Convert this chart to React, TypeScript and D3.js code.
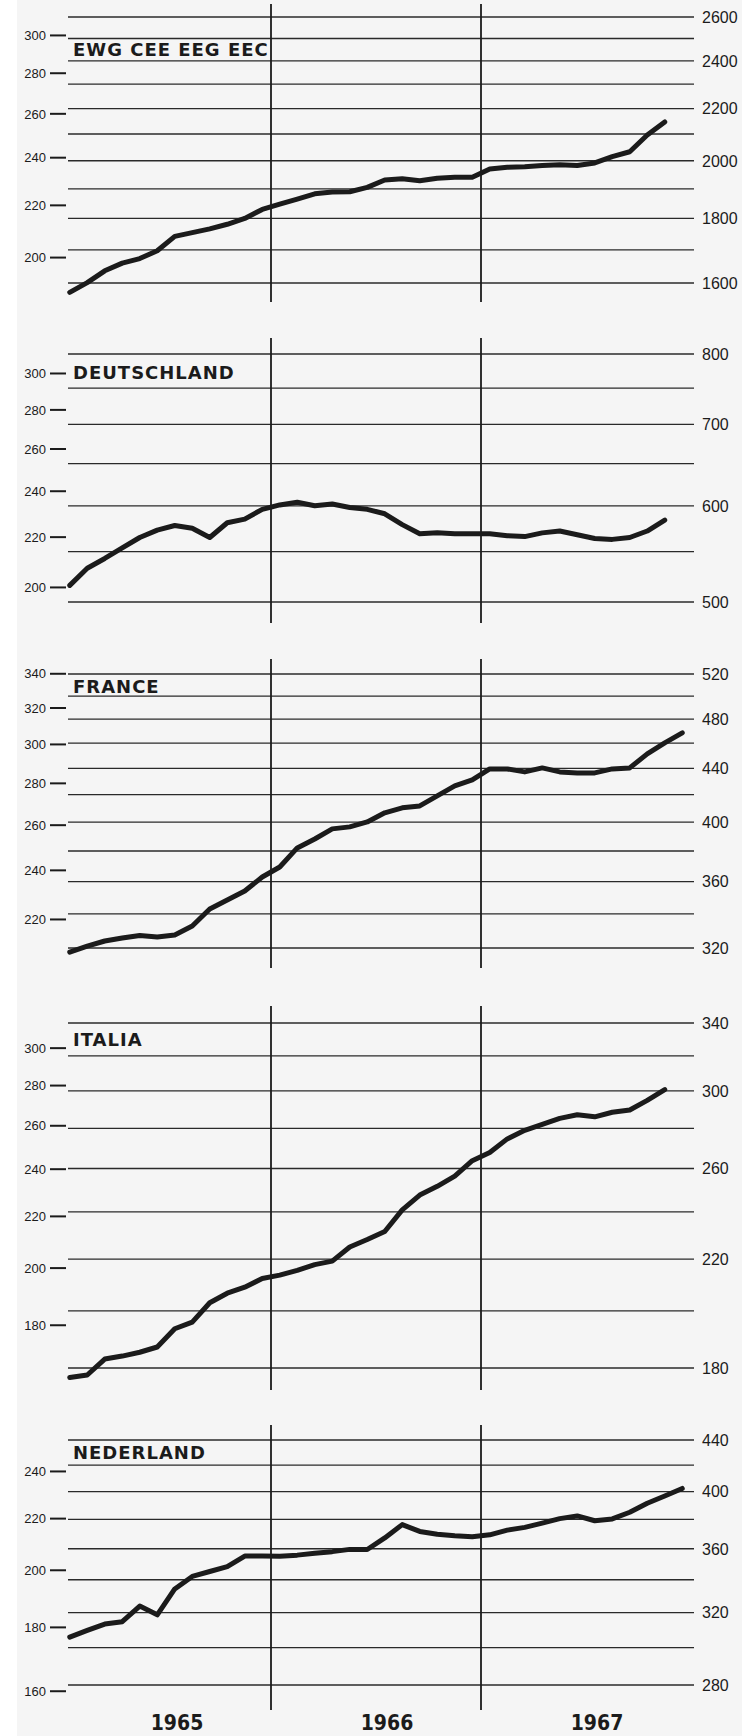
import React from "react";
import * as d3 from "d3";

// ---- data (monthly, Jan 1965 = index 0; values in right-axis units) ----
const ewgValues = [1573,1601,1636,1659,1673,1697,1742,1754,1766,1781,1800,1830,1848,1865,1883,1889,1890,1905,1931,1935,1928,1937,1941,1941,1970,1976,1978,1983,1985,1983,1992,2015,2033,2096,2147];
const deValues = [516,533,543,554,565,573,578,575,565,581,585,596,601,604,600,602,598,596,591,579,569,570,569,569,569,567,566,570,572,568,564,563,565,572,584];
const frValues = [317.7,321.1,324.0,325.7,327.2,326.3,327.5,332.7,342.9,348.4,354.0,362.9,369.4,382.1,388.2,395.2,396.6,400.1,406.6,410.2,411.6,419.0,426.5,431.0,439.5,439.5,437.2,440.3,437.2,436.4,436.4,439.5,440.3,451.4,460.3,468.5];
const itValues = [176.9,177.7,183.0,184.0,185.3,187.1,193.5,195.9,203.0,206.6,208.9,212.3,213.6,215.5,217.8,219.2,225.0,228.1,231.5,240.9,247.6,251.6,256.4,263.8,267.8,274.6,279.0,282.0,285.2,287.1,286.0,288.4,289.6,294.8,300.7];
const nlValues = [305.9,309.7,313.3,314.7,323.9,318.7,334.3,342.1,345.2,348.3,355.2,355.2,355.1,355.8,357.0,358.1,359.6,359.5,367.3,376.4,371.7,369.8,368.7,368.1,369.4,372.6,374.5,377.4,380.6,382.5,379.1,380.4,385.1,391.5,396.8,402.4];

const titles = ["EWG CEE EEG EEC", "DEUTSCHLAND", "FRANCE", "ITALIA", "NEDERLAND"];
const years = ["1965", "1966", "1967"];

const ewgRight = [1600, 1800, 2000, 2200, 2400, 2600];
const deRight = [500, 600, 700, 800];
const frRight = [320, 360, 400, 440, 480, 520];
const itRight = [180, 220, 260, 300, 340];
const nlRight = [280, 320, 360, 400, 440];

const ewgGrid = d3.range(1600, 2601, 100);
const deGrid = d3.range(500, 801, 50);
const frGrid = d3.range(320, 521, 20);
const itGrid = d3.range(180, 341, 20);
const nlGrid = d3.range(280, 441, 20);

const ewgLeft = [200, 220, 240, 260, 280, 300];
const deLeft = [200, 220, 240, 260, 280, 300];
const frLeft = [220, 240, 260, 280, 300, 320, 340];
const itLeft = [180, 200, 220, 240, 260, 280, 300];
const nlLeft = [160, 180, 200, 220, 240];

// ratio right-axis value / left-axis index
const ratios = [8.38, 2.57, 1.53, 1.082, 1.73];

// ---- layout ----
const W = 742, H = 1736;
const panels = [
  { values: ewgValues, right: ewgRight, grid: ewgGrid, left: ewgLeft, yLo: 283, yHi: 17, vTop: 4, vBot: 302, titleY: 56 },
  { values: deValues, right: deRight, grid: deGrid, left: deLeft, yLo: 602, yHi: 354, vTop: 338, vBot: 623, titleY: 379 },
  { values: frValues, right: frRight, grid: frGrid, left: frLeft, yLo: 948, yHi: 674, vTop: 659, vBot: 968, titleY: 693 },
  { values: itValues, right: itRight, grid: itGrid, left: itLeft, yLo: 1368, yHi: 1023, vTop: 1006, vBot: 1390, titleY: 1046 },
  { values: nlValues, right: nlRight, grid: nlGrid, left: nlLeft, yLo: 1685, yHi: 1440, vTop: 1425, vBot: 1710, titleY: 1459 },
];

const x = d3.scaleLinear().domain([0, 36]).range([61, 691]);
const gridX1 = 68, gridX2 = 694;
const ink = "#1b1b1b";
const numFont = "'Liberation Sans', Arial, sans-serif";
const yearFont = "'DejaVu Sans Condensed', 'DejaVu Sans', sans-serif";
const titleFont = "'DejaVu Sans', sans-serif";

function Panel({ p, idx }: { p: any; idx: number }) {
  const lo = p.grid[0], hi = p.grid[p.grid.length - 1];
  const y = d3.scaleLog().domain([lo, hi]).range([p.yLo, p.yHi]);
  const line = d3.line<number>().x((_, i) => x(i + 0.5)).y((v) => y(v)).curve(d3.curveLinear);
  const k = ratios[idx];
  return (
    <g>
      {p.grid.map((g: number) => (
        <line key={"g" + g} x1={gridX1} x2={gridX2} y1={y(g)} y2={y(g)} stroke="#2a2a2a" strokeWidth={1.3} />
      ))}
      {[12, 24].map((m) => (
        <line key={"v" + m} x1={x(m)} x2={x(m)} y1={p.vTop} y2={p.vBot} stroke={ink} strokeWidth={1.8} />
      ))}
      {p.right.map((r: number) => (
        <text key={"r" + r} x={gridX2 + 8} y={y(r)} dy="0.36em" fontFamily={numFont} fontSize={16} fill={ink}>
          {r}
        </text>
      ))}
      {p.left.map((l: number) => (
        <g key={"l" + l}>
          <line x1={50} x2={66} y1={y(l * k)} y2={y(l * k)} stroke={ink} strokeWidth={2} />
          <text x={46} y={y(l * k)} dy="0.36em" textAnchor="end" fontFamily={numFont} fontSize={13} fill={ink}>
            {l}
          </text>
        </g>
      ))}
      <text x={73} y={p.titleY} fontFamily={titleFont} fontWeight={700} fontSize={18} letterSpacing={1} fill={ink}>
        {titles[idx]}
      </text>
      <path d={line(p.values) || ""} fill="none" stroke={ink} strokeWidth={5} strokeLinejoin="round" strokeLinecap="round" />
    </g>
  );
}

export default function App() {
  return (
    <svg width={W} height={H} viewBox={`0 0 ${W} ${H}`} style={{ position: "absolute", left: 0, top: 0, background: "#ffffff" }}>
      <rect x={17} y={0} width={W - 17} height={H} fill="#f5f5f5" />
      {panels.map((p, i) => (
        <Panel key={i} p={p} idx={i} />
      ))}
      {years.map((yr, i) => (
        <text key={yr} x={x(6 + 12 * i) + 11} y={1730} textAnchor="middle" fontFamily={yearFont} fontWeight={700} fontSize={21} fill={ink}>
          {yr}
        </text>
      ))}
    </svg>
  );
}
